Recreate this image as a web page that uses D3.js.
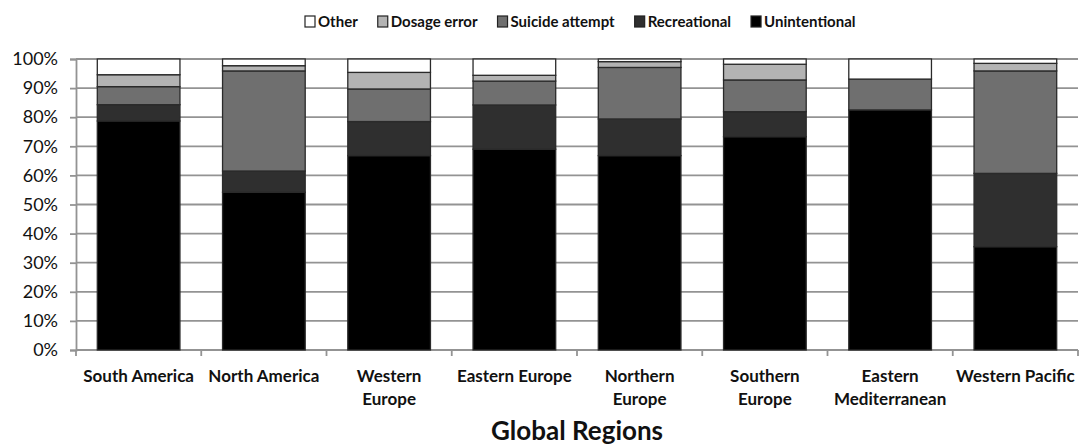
<!DOCTYPE html>
<html>
<head>
<meta charset="utf-8">
<script src="https://cdn.jsdelivr.net/npm/d3@7"></script>
<style>
  html, body { margin: 0; padding: 0; background: #fff; }
  svg { display: block; font-family: Lato, "Open Sans", sans-serif; }
</style>
</head>
<body>
<svg id="chart" width="1081" height="446"></svg>
<script>
// Regions shown along the x axis; each label is split into its display lines
const regions = ["South America", "North America", "Western Europe", "Eastern Europe",
                 "Northern Europe", "Southern Europe", "Eastern Mediterranean", "Western Pacific"];
const regionLines = [["South America"], ["North America"], ["Western", "Europe"], ["Eastern Europe"],
                     ["Northern", "Europe"], ["Southern", "Europe"], ["Eastern", "Mediterranean"], ["Western Pacific"]];

// Share of cases (%) per region, by intent
const unintentional  = [78.7, 54.2, 66.8, 69.0, 66.8, 73.3, 82.5, 35.5];
const recreational   = [ 5.6,  7.3, 11.7, 15.2, 12.6,  8.6,  0.0, 25.2];
const suicideAttempt = [ 6.2, 34.4, 11.2,  8.2, 17.7, 10.9, 10.6, 35.2];
const dosageError    = [ 4.1,  1.8,  5.7,  2.0,  2.0,  5.4,  0.0,  2.6];
const other          = [ 5.4,  2.3,  4.6,  5.6,  0.9,  1.8,  6.9,  1.5];

const seriesNames = ["Unintentional", "Recreational", "Suicide attempt", "Dosage error", "Other"];
const legendOrder = ["Other", "Dosage error", "Suicide attempt", "Recreational", "Unintentional"];
const yTicks = [0, 10, 20, 30, 40, 50, 60, 70, 80, 90, 100];
const xTitle = "Global Regions";

const colors = {
  "Unintentional": "#000000",
  "Recreational": "#2f2f2f",
  "Suicide attempt": "#6f6f6f",
  "Dosage error": "#b3b3b3",
  "Other": "#ffffff"
};

const valuesBySeries = {
  "Unintentional": unintentional,
  "Recreational": recreational,
  "Suicide attempt": suicideAttempt,
  "Dosage error": dosageError,
  "Other": other
};

const rows = regions.map((r, i) => {
  const row = { region: r };
  seriesNames.forEach(s => { row[s] = valuesBySeries[s][i]; });
  return row;
});

const svg = d3.select("#chart");
const plotLeft = 76, plotRight = 1078, plotTop = 59, plotBottom = 350;

const x = d3.scaleBand().domain(regions).range([plotLeft, plotRight]).paddingInner(0.34).paddingOuter(0.17);
const y = d3.scaleLinear().domain([0, 100]).range([plotBottom, plotTop]);

const gridColor = "#939393";

// Horizontal gridlines
svg.append("g")
  .selectAll("line")
  .data(yTicks.filter(t => t > 0))
  .join("line")
  .attr("x1", plotLeft).attr("x2", plotRight)
  .attr("y1", d => y(d)).attr("y2", d => y(d))
  .attr("stroke", gridColor).attr("stroke-width", 1.8);

// Y axis
const yAxis = svg.append("g")
  .attr("transform", `translate(${plotLeft},0)`)
  .call(d3.axisLeft(y).tickValues(yTicks).tickFormat(d => d + "%").tickSize(6).tickPadding(12));
yAxis.select(".domain").attr("stroke", gridColor).attr("stroke-width", 1.8);
yAxis.selectAll(".tick line").attr("stroke", gridColor).attr("stroke-width", 1.8);
yAxis.selectAll(".tick text")
  .attr("fill", "#111").attr("font-size", 18).attr("font-family", "Lato, sans-serif");

// X axis with ticks between categories
const bandEdges = regions.map((r, i) => plotLeft + i * (plotRight - plotLeft) / regions.length).concat([plotRight]);
const xAxis = svg.append("g").attr("transform", `translate(0,${plotBottom})`);
xAxis.append("line").attr("x1", plotLeft).attr("x2", plotRight).attr("y1", 0).attr("y2", 0)
  .attr("stroke", gridColor).attr("stroke-width", 1.8);
xAxis.selectAll("line.tk").data(bandEdges).join("line").attr("class", "tk")
  .attr("x1", d => d).attr("x2", d => d).attr("y1", 0).attr("y2", 6)
  .attr("stroke", gridColor).attr("stroke-width", 1.8);

// Stacked bars
const stack = d3.stack().keys(seriesNames)(rows);
svg.append("g")
  .selectAll("g")
  .data(stack)
  .join("g")
  .attr("fill", d => colors[d.key])
  .selectAll("rect")
  .data(d => d.filter(p => p[1] - p[0] > 0))
  .join("rect")
  .attr("x", d => x(d.data.region))
  .attr("width", x.bandwidth())
  .attr("y", d => y(d[1]))
  .attr("height", d => y(d[0]) - y(d[1]))
  .attr("stroke", "#2a2a2a")
  .attr("stroke-width", 1.3);

// Category labels
const labels = svg.append("g").attr("font-weight", 700).attr("font-size", 17).attr("fill", "#111");
regions.forEach((r, i) => {
  const t = labels.append("text")
    .attr("x", x(r) + x.bandwidth() / 2)
    .attr("y", 382)
    .attr("text-anchor", "middle");
  regionLines[i].forEach((line, j) => {
    t.append("tspan").attr("x", x(r) + x.bandwidth() / 2).attr("dy", j === 0 ? 0 : 23).text(line);
  });
});

// Axis title
svg.append("text")
  .attr("x", (plotLeft + plotRight) / 2)
  .attr("y", 440)
  .attr("text-anchor", "middle")
  .attr("font-weight", 700)
  .attr("font-size", 26)
  .attr("fill", "#111")
  .text(xTitle);

// Legend
const legend = svg.append("g").attr("font-weight", 700).attr("font-size", 15).attr("fill", "#111");
let lx = 305;
legendOrder.forEach(name => {
  const g = legend.append("g").attr("transform", `translate(${lx},0)`);
  g.append("rect").attr("x", 0).attr("y", 16).attr("width", 10).attr("height", 11)
    .attr("fill", colors[name]).attr("stroke", "#222").attr("stroke-width", 1.2);
  const t = g.append("text").attr("x", 13).attr("y", 27).text(name);
  lx += 13 + t.node().getComputedTextLength() + 20;
});
</script>
</body>
</html>
